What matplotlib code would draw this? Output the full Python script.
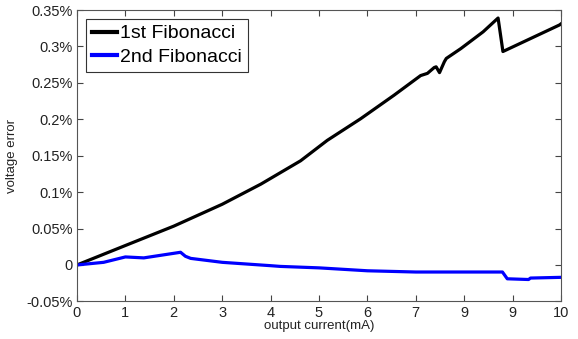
import numpy as np
import matplotlib
matplotlib.use('Agg')
import matplotlib.pyplot as plt

plt.rcParams['font.family'] = ['Liberation Sans', 'DejaVu Sans']

# 1st Fibonacci (voltage error in %)
x_fib1 = [0, 1, 2, 3, 3.8, 4.62, 5.17, 5.86, 6.55, 7.1, 7.24, 7.38, 7.42, 7.49, 7.59, 7.63,
          7.93, 8.39, 8.70, 8.80, 9.97, 10]
y_fib1 = [0, 0.0267, 0.0533, 0.0833, 0.111, 0.143, 0.171, 0.2007, 0.233, 0.260, 0.263, 0.271,
          0.272, 0.264, 0.279, 0.2835, 0.297, 0.320, 0.339, 0.293, 0.3295, 0.331]

# 2nd Fibonacci
x_fib2 = [0, 0.55, 1.0, 1.38, 2.14, 2.24, 2.35, 3, 4, 4.2, 5, 6, 7, 8, 8.79, 8.89, 9.33, 9.37, 10]
y_fib2 = [0, 0.0036, 0.011, 0.0097, 0.0174, 0.0119, 0.009, 0.0036, -0.001, -0.002, -0.004,
          -0.008, -0.0097, -0.0097, -0.0097, -0.019, -0.020, -0.018, -0.017]

xticks = [0, 1, 2, 3, 4, 5, 6, 7, 8, 9, 10]
xtick_labels = ['0', '1', '2', '3', '4', '5', '6', '7', '9', '9', '10']
yticks = [-0.05, 0, 0.05, 0.1, 0.15, 0.2, 0.25, 0.3, 0.35]
ytick_labels = ['-0.05%', '0', '0.05%', '0.1%', '0.15%', '0.2%', '0.25%', '0.3%', '0.35%']

fig = plt.figure(figsize=(5.78, 3.39), dpi=100)
ax = fig.add_axes([0.1332, 0.111, 0.8374, 0.8595])

ax.plot(x_fib1, y_fib1, color='black', lw=2.3, label='1st Fibonacci')
ax.plot(x_fib2, y_fib2, color='#0000ff', lw=2.3, label='2nd Fibonacci')

ax.set_xlim(0, 10)
ax.set_ylim(-0.05, 0.35)
ax.set_xticks(xticks)
ax.set_xticklabels(xtick_labels)
ax.set_yticks(yticks)
ax.set_yticklabels(ytick_labels)
ax.tick_params(direction='in', top=True, right=True, labelsize=10.5, length=4,
               color='#444444', labelcolor='#222222', pad=3)
for s in ax.spines.values():
    s.set_color('#555555')
    s.set_linewidth(0.8)

ax.set_xlabel('output current(mA)', fontsize=9.5, color='#222222', labelpad=0)
ax.set_ylabel('voltage error', fontsize=9.5, color='#222222', labelpad=6)

leg = ax.legend(loc='upper left', fontsize=14, handlelength=1.3, handletextpad=0.15,
                borderpad=0.3, labelspacing=0.3, fancybox=False, framealpha=1,
                bbox_to_anchor=(0.0186, 0.969), borderaxespad=0)
leg.get_frame().set_edgecolor('#333333')
leg.get_frame().set_linewidth(0.8)
for line in leg.get_lines():
    line.set_linewidth(3)

fig.savefig('out.png', dpi=100)
